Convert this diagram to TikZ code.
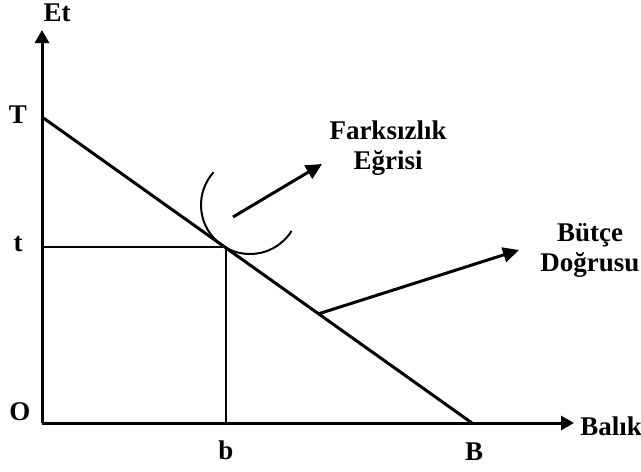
\documentclass[tikz,border=0pt]{standalone}
\usepackage{fontspec}
\setmainfont{Liberation Serif}
\usetikzlibrary{arrows.meta}

\begin{document}
\begin{tikzpicture}[x=0.5pt,y=-0.5pt,
lbl/.style={font=\bfseries\fontsize{13.5}{15}\selectfont, inner sep=0pt, align=center},
axis/.style={-{Triangle[length=6.5pt,width=7pt]}, line width=1.5pt},
budget/.style={line width=1.5pt},
guide/.style={line width=0.7pt},
pointer/.style={-{Triangle[length=8pt,width=7.5pt]}, line width=1.5pt}
]
\useasboundingbox (0,0) rectangle (641,471);

% axes
\coordinate (O) at (42,423);
\coordinate (ytop) at (42,30);
\coordinate (xend) at (574,423);
\draw[axis] (O) -- (ytop);
\draw[axis] (O) -- (xend);
\node[lbl] (et) at (57,13) {Et};
\node[lbl, anchor=base west] (balik) at (580,435) {Balık};
\node[lbl] (olbl) at (20,412) {O};

% budget line and optimum
\coordinate (T) at (42,117);
\coordinate (B) at (472,423);
\coordinate (E) at (226,247);
\coordinate (bfoot) at (226,423);
\coordinate (tfoot) at (42,247);
\draw[budget] (T) -- (B);
\draw[guide] (tfoot) -- (E) -- (bfoot);
\node[lbl] (tcap) at (18,115) {T};
\node[lbl] (tsmall) at (18,244) {t};
\node[lbl] (bsmall) at (226,450) {b};
\node[lbl] (bcap) at (474,452) {B};

% indifference curve
\coordinate (ic) at (250,205);
\draw[guide, line width=1pt] (ic) ++(222:49) arc[start angle=222, end angle=32, radius=49];

% labels with pointers
\coordinate (fs) at (233,217);
\coordinate (fe) at (322,164);
\draw[pointer] (fs) -- (fe);
\node[lbl] (icurve) at (388,148) {Farksızlık\\Eğrisi};

\coordinate (bs) at (318,314);
\coordinate (be) at (519,250);
\draw[pointer] (bs) -- (be);
\node[lbl] (bline) at (590,250) {Bütçe\\Doğrusu};
\end{tikzpicture}
\end{document}
